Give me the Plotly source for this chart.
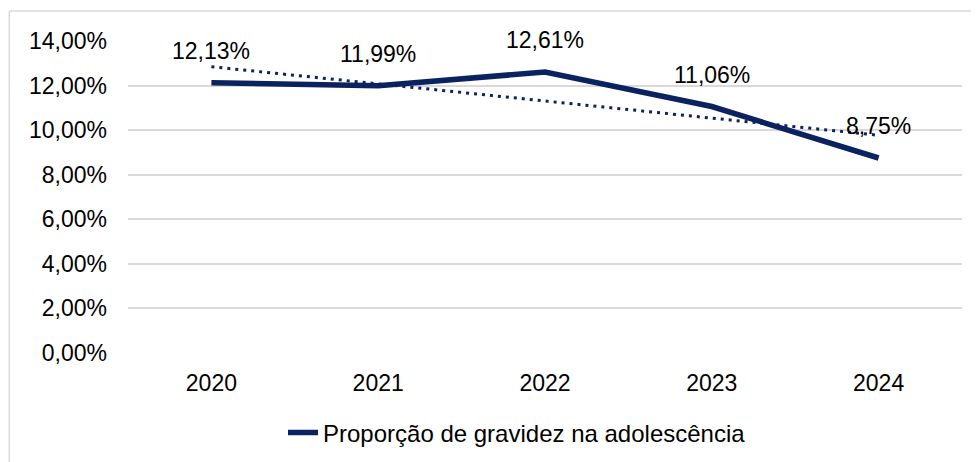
import numpy as np
import plotly.graph_objects as go

years = ["2020", "2021", "2022", "2023", "2024"]
values = [12.13, 11.99, 12.61, 11.06, 8.75]
y_ticks = [0, 2, 4, 6, 8, 10, 12, 14]
series_name = "Proporção de gravidez na adolescência"

NAVY = "#0b2260"
FONT = "Liberation Sans, Arial, sans-serif"

vals = [v / 100 for v in values]
xi = np.arange(len(years))
slope, intercept = np.polyfit(xi, vals, 1)
trend = list(slope * xi + intercept)

fig = go.Figure()
fig.add_trace(go.Scatter(
    x=years, y=trend, mode="lines", showlegend=False, hoverinfo="skip",
    line=dict(color=NAVY, width=3, dash="3px,5px"),
))
fig.add_trace(go.Scatter(
    x=years, y=vals, mode="lines", name=series_name,
    line=dict(color=NAVY, width=5.5),
))

for i, v in enumerate(values):
    fig.add_annotation(
        x=i, y=v / 100, text=f"{v:.2f}%".replace(".", ","),
        showarrow=False, yshift=32, font=dict(size=23, color="#000000", family=FONT),
    )

# chart-area border (left and top visible)
fig.add_shape(type="line", xref="paper", yref="paper", x0=-0.1423, x1=-0.1423,
              y0=1.096, y1=-0.5, line=dict(color="#d9d9d9", width=1.5))
fig.add_shape(type="line", xref="paper", yref="paper", x0=-0.1423, x1=1.1,
              y0=1.096, y1=1.096, line=dict(color="#d9d9d9", width=1.5))

W, H = 971, 454
fig.update_layout(
    width=W, height=H,
    margin=dict(l=120, r=17, t=33, b=109, autoexpand=False),
    paper_bgcolor="white", plot_bgcolor="white",
    separators=",.",
    font=dict(family=FONT, size=23, color="#000000"),
    showlegend=True,
    legend=dict(orientation="h", xref="container", yref="container",
                x=275 / W, xanchor="left", y=1 - 425 / H, yanchor="middle",
                font=dict(size=24, family=FONT, color="#000000"), bgcolor="rgba(0,0,0,0)"),
)
fig.update_xaxes(
    type="category", range=[-0.5, 4.5], showgrid=False, showline=False, zeroline=False,
    ticks="", ticklabelstandoff=14, tickfont=dict(size=23), automargin=False,
)
fig.update_yaxes(
    range=[0, 0.14], tickvals=[t / 100 for t in y_ticks], tickformat=".2%",
    showgrid=True, gridcolor="#d9d9d9", gridwidth=1.5, zeroline=False, showline=False,
    ticks="", ticklabelstandoff=20, tickfont=dict(size=23), automargin=False,
)

fig.write_html("out.html")
